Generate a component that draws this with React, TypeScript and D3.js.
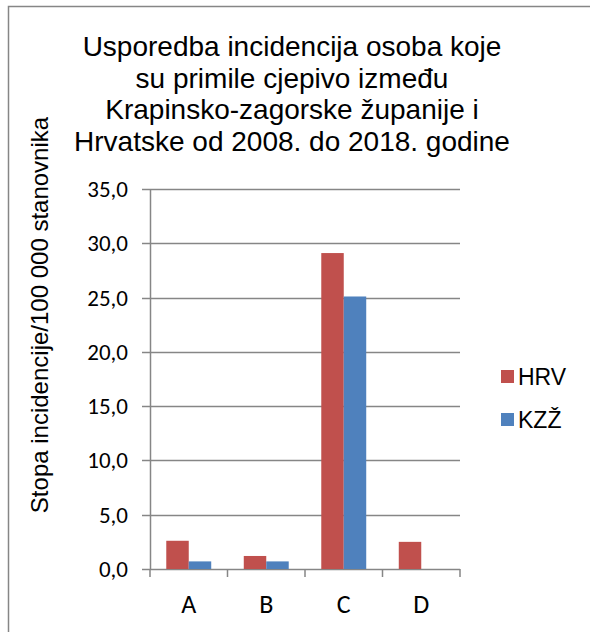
import { useEffect, useRef } from "react";
import * as d3 from "d3";

// Chart data
const categories = ["A", "B", "C", "D"];
const seriesNames = ["HRV", "KZŽ"];
const hrv = [2.6, 1.2, 29.1, 2.5];
const kzz = [0.7, 0.7, 25.1, null];
const yTicks = [0, 5, 10, 15, 20, 25, 30, 35];
const titleLines = [
  "Usporedba incidencija osoba koje",
  "su primile cjepivo između",
  "Krapinsko-zagorske županije i",
  "Hrvatske od 2008. do 2018. godine",
];
const yLabel = "Stopa incidencije/100 000 stanovnika";

const W = 590;
const H = 632;
const COLORS = ["#C0504D", "#4F81BD"];
const AXIS = "#868686";
const SANS = "'Liberation Sans', Arial, sans-serif";
const TICK_FONT = "Carlito, Lato, 'Open Sans', sans-serif";
const PLOT = { left: 150, right: 460, top: 189, bottom: 569 };

export default function App() {
  const svgRef = useRef<SVGSVGElement | null>(null);

  useEffect(() => {
    const svg = d3.select(svgRef.current);
    svg.selectAll("*").remove();

    const x = d3
      .scaleBand<string>()
      .domain(categories)
      .range([PLOT.left, PLOT.right])
      .paddingInner(0.42)
      .paddingOuter(0.21);
    const step = x.step();
    const xs = d3.scaleBand<string>().domain(seriesNames).range([0, x.bandwidth()]);
    const y = d3.scaleLinear().domain([0, 35]).range([PLOT.bottom, PLOT.top]);

    // frame (only top and left edges are visible in the picture)
    svg
      .append("path")
      .attr("d", `M8.5,${H} V6.5 H${W}`)
      .attr("fill", "none")
      .attr("stroke", AXIS)
      .attr("stroke-width", 1.5);

    // title
    svg
      .append("text")
      .attr("text-anchor", "middle")
      .attr("font-family", SANS)
      .attr("font-size", 28)
      .attr("fill", "#000")
      .selectAll("tspan")
      .data(titleLines)
      .join("tspan")
      .attr("x", 292)
      .attr("y", (_d, i) => 56 + i * 31.5)
      .text((d) => d);

    // gridlines + y ticks
    svg
      .append("g")
      .selectAll("line")
      .data(yTicks)
      .join("line")
      .attr("x1", PLOT.left - 8)
      .attr("x2", PLOT.right)
      .attr("y1", (d) => Math.round(y(d)) + 0.5)
      .attr("y2", (d) => Math.round(y(d)) + 0.5)
      .attr("stroke", AXIS)
      .attr("stroke-width", 1.5);

    svg
      .append("g")
      .selectAll("text")
      .data(yTicks)
      .join("text")
      .attr("x", PLOT.left - 22)
      .attr("y", (d) => y(d))
      .attr("dy", "0.35em")
      .attr("text-anchor", "end")
      .attr("font-family", TICK_FONT)
      .attr("font-size", 23)
      .attr("fill", "#000")
      .text((d) => d.toFixed(1).replace(".", ","));

    // bars
    const series = [hrv, kzz];
    series.forEach((vals, si) => {
      svg
        .append("g")
        .selectAll("rect")
        .data(vals.map((v, i) => ({ cat: categories[i], v })).filter((d) => d.v != null))
        .join("rect")
        .attr("x", (d) => (x(d.cat) as number) + (xs(seriesNames[si]) as number))
        .attr("width", xs.bandwidth())
        .attr("y", (d) => y(d.v as number))
        .attr("height", (d) => y(0) - y(d.v as number))
        .attr("fill", COLORS[si]);
    });

    // y axis line
    svg
      .append("line")
      .attr("x1", PLOT.left + 0.5)
      .attr("x2", PLOT.left + 0.5)
      .attr("y1", PLOT.top)
      .attr("y2", PLOT.bottom + 0.5)
      .attr("stroke", AXIS)
      .attr("stroke-width", 1.5);

    // x axis ticks at category boundaries
    const bounds = d3.range(categories.length + 1).map((i) => PLOT.left + i * step);
    svg
      .append("g")
      .selectAll("line")
      .data(bounds)
      .join("line")
      .attr("x1", (d) => d)
      .attr("x2", (d) => d)
      .attr("y1", PLOT.bottom)
      .attr("y2", PLOT.bottom + 8)
      .attr("stroke", AXIS)
      .attr("stroke-width", 1.5);

    svg
      .append("g")
      .selectAll("text")
      .data(categories)
      .join("text")
      .attr("x", (d) => (x(d) as number) + x.bandwidth() / 2)
      .attr("y", 613)
      .attr("text-anchor", "middle")
      .attr("font-family", TICK_FONT)
      .attr("font-size", 26)
      .attr("fill", "#000")
      .text((d) => d);

    // y label
    svg
      .append("text")
      .attr("transform", `translate(48,315) rotate(-90)`)
      .attr("text-anchor", "middle")
      .attr("font-family", SANS)
      .attr("font-size", 24)
      .attr("fill", "#000")
      .text(yLabel);

    // legend
    const leg = svg
      .append("g")
      .selectAll("g")
      .data(seriesNames)
      .join("g")
      .attr("transform", (_d, i) => `translate(501,${370 + i * 43})`);
    leg
      .append("rect")
      .attr("width", 13)
      .attr("height", 13)
      .attr("fill", (_d, i) => COLORS[i]);
    leg
      .append("text")
      .attr("x", 17)
      .attr("y", 15)
      .attr("font-family", SANS)
      .attr("font-size", 23)
      .attr("fill", "#000")
      .text((d) => d);
  }, []);

  return <svg ref={svgRef} width={W} height={H} style={{ position: "absolute", left: 0, top: 0 }} />;
}
